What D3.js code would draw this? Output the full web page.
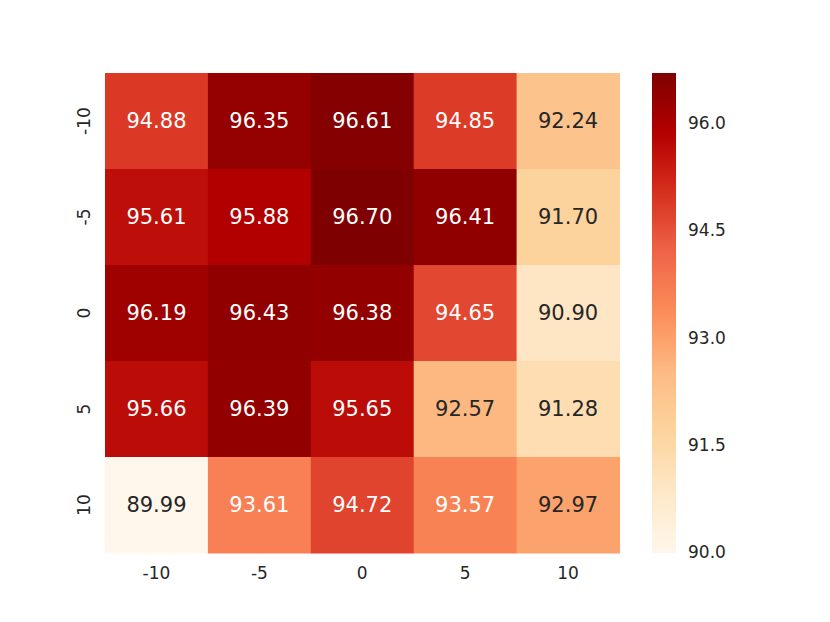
<!DOCTYPE html>
<html>
<head>
<meta charset="utf-8">
<script src="https://cdn.jsdelivr.net/npm/d3@7"></script>
<style>
  body { margin: 0; background: #fff; }
  text { font-family: "DejaVu Sans", sans-serif; }
</style>
</head>
<body>
<svg id="chart" width="830" height="622"></svg>
<script>
// Data
var rowLabels = ["-10", "-5", "0", "5", "10"];
var colLabels = ["-10", "-5", "0", "5", "10"];
var values = [
  [94.88, 96.35, 96.61, 94.85, 92.24],
  [95.61, 95.88, 96.70, 96.41, 91.70],
  [96.19, 96.43, 96.38, 94.65, 90.90],
  [95.66, 96.39, 95.65, 92.57, 91.28],
  [89.99, 93.61, 94.72, 93.57, 92.97]
];
var cbarTicks = [90.0, 91.5, 93.0, 94.5, 96.0];

var svg = d3.select("#chart");

// plot area (don't call it "top", window.top is taken)
var plotL = 105, plotT = 73, plotR = 619.5, plotB = 553;

var flat = d3.merge(values);
var vmin = d3.min(flat), vmax = d3.max(flat);

// matplotlib OrRd = linear between the 9 brewer colours
var orrd = d3.schemeOrRd[9];
var color = d3.scaleLinear()
  .domain(d3.range(9).map(function(i) { return vmin + (vmax - vmin) * i / 8; }))
  .range(orrd)
  .interpolate(d3.interpolateRgb)
  .clamp(true);

var x = d3.scaleBand().domain(colLabels).range([plotL, plotR]);
var y = d3.scaleBand().domain(rowLabels).range([plotT, plotB]);

// relative luminance, as seaborn uses it to pick the annotation colour
function lum(c) {
  var rgb = d3.rgb(c);
  var f = function(v) {
    v = v / 255;
    return v <= 0.03928 ? v / 12.92 : Math.pow((v + 0.055) / 1.055, 2.4);
  };
  return 0.2126 * f(rgb.r) + 0.7152 * f(rgb.g) + 0.0722 * f(rgb.b);
}

var cells = [];
values.forEach(function(row, i) {
  row.forEach(function(v, j) {
    cells.push({ r: rowLabels[i], c: colLabels[j], v: v });
  });
});

svg.append("g").selectAll("rect")
  .data(cells)
  .enter()
  .append("rect")
  .attr("x", function(d) { return x(d.c); })
  .attr("y", function(d) { return y(d.r); })
  .attr("width", x.bandwidth() + 0.5)
  .attr("height", y.bandwidth() + 0.5)
  .attr("fill", function(d) { return color(d.v); });

svg.append("g").selectAll("text")
  .data(cells)
  .enter()
  .append("text")
  .attr("x", function(d) { return x(d.c) + x.bandwidth() / 2; })
  .attr("y", function(d) { return y(d.r) + y.bandwidth() / 2; })
  .attr("text-anchor", "middle")
  .attr("dominant-baseline", "central")
  .attr("font-size", "21px")
  .attr("fill", function(d) { return lum(color(d.v)) > 0.408 ? "#262626" : "#ffffff"; })
  .text(function(d) { return d.v.toFixed(2); });

// x axis
var xAxis = svg.append("g")
  .attr("transform", "translate(0," + plotB + ")")
  .call(d3.axisBottom(x).tickSize(0).tickPadding(14));
xAxis.select(".domain").remove();
xAxis.selectAll("text")
  .attr("font-size", "17px")
  .attr("fill", "#262626")
  .style("font-family", "DejaVu Sans");

// y axis, labels rotated
var yAxis = svg.append("g")
  .attr("transform", "translate(" + plotL + ",0)")
  .call(d3.axisLeft(y).tickSize(0).tickPadding(0));
yAxis.select(".domain").remove();
yAxis.selectAll("text")
  .attr("font-size", "17px")
  .attr("fill", "#262626")
  .style("font-family", "DejaVu Sans")
  .attr("x", null)
  .attr("dy", null)
  .attr("text-anchor", "middle")
  .attr("transform", "translate(-21,0) rotate(-90)")
  .attr("dominant-baseline", "central");

// colorbar
var cbLeft = 652, cbWidth = 24;
var cbScale = d3.scaleLinear().domain([vmin, vmax]).range([plotB, plotT]);

var defs = svg.append("defs");
var grad = defs.append("linearGradient")
  .attr("id", "cbar")
  .attr("x1", 0).attr("y1", 1)
  .attr("x2", 0).attr("y2", 0);
grad.selectAll("stop")
  .data(orrd)
  .enter()
  .append("stop")
  .attr("offset", function(d, i) { return i / 8; })
  .attr("stop-color", function(d) { return d; });

svg.append("rect")
  .attr("x", cbLeft)
  .attr("y", plotT)
  .attr("width", cbWidth)
  .attr("height", plotB - plotT)
  .attr("fill", "url(#cbar)");

var cAxis = svg.append("g")
  .attr("transform", "translate(" + (cbLeft + cbWidth) + ",0)")
  .call(d3.axisRight(cbScale).tickValues(cbarTicks).tickFormat(d3.format(".1f")).tickSize(0).tickPadding(12));
cAxis.select(".domain").remove();
cAxis.selectAll("text")
  .attr("font-size", "17px")
  .attr("fill", "#262626")
  .style("font-family", "DejaVu Sans");
</script>
</body>
</html>
